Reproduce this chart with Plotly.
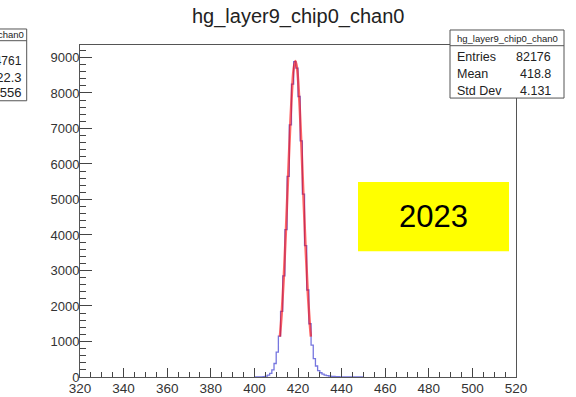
import plotly.graph_objects as go

# ---------------- data ----------------
title_text = "hg_layer9_chip0_chan0"
bin_start = 400
bin_width = 1
counts = [0, 1, 3, 6, 12, 25, 50, 100, 200, 380,
          700, 1150, 1850, 2850, 4150, 5650, 7100, 8250, 8880, 8700,
          7900, 6650, 5150, 3700, 2450, 1500, 900, 520, 310, 180,
          120, 80, 55, 40, 28, 20, 14, 10, 7, 5,
          4, 3, 2, 2, 1, 1, 1, 1, 1, 1]
fit_x = [411.7, 412.5, 413.5, 414.5, 415.5, 416.5, 417.5, 418.0, 418.8,
         419.5, 420.5, 421.5, 422.5, 423.5, 424.5, 425.5, 425.9]
fit_y = [1137, 1762, 2826, 4184, 5708, 7172, 8306, 8671, 8900,
         8724, 7911, 6609, 5090, 3613, 2363, 1424, 1137]
stats_labels = ["Entries", "Mean", "Std Dev"]
stats_values = ["82176", "418.8", "4.131"]
left_stats_title = "hg_layer9_chip0_chan0"
left_stats_values = ["64761", "422.3", "4.556"]
year_label = "2023"

# ---------------- layout geometry (pixels) ----------------
W, H = 576, 397
L, R, T, B = 80, 516, 45, 376.7


def px(x):
    return (x - L) / (R - L)


def py(y):
    return (B - y) / (B - T)


edges = [bin_start + i * bin_width for i in range(len(counts) + 1)]
hx = [edges[0]] + edges[:-1] + [edges[-1], edges[-1]]
hy = [0] + counts + [counts[-1], 0]

fig = go.Figure()
fig.add_trace(go.Scatter(x=hx, y=hy, mode="lines", line_shape="hv",
                         line=dict(color="rgba(60,60,210,0.7)", width=1.3),
                         hoverinfo="skip", showlegend=False))
fig.add_trace(go.Scatter(x=fit_x, y=fit_y, mode="lines", line_shape="spline",
                         line=dict(color="rgba(255,0,0,0.6)", width=2.5),
                         hoverinfo="skip", showlegend=False))

font_fam = "Liberation Sans, Arial, sans-serif"
shapes = []
annotations = []

# title
annotations.append(dict(text=title_text, xref="paper", yref="paper",
                        x=px(298), y=py(17), xanchor="center", yanchor="middle",
                        showarrow=False, font=dict(size=20, color="#222", family=font_fam)))

# right stats box
bx0, bx1, by0, by1, bsep = 450, 564, 30, 98, 45.7
shapes.append(dict(type="rect", xref="paper", yref="paper",
                   x0=px(bx0), x1=px(bx1), y0=py(by1), y1=py(by0),
                   line=dict(color="#555", width=1), fillcolor="white", layer="above"))
shapes.append(dict(type="line", xref="paper", yref="paper",
                   x0=px(bx0), x1=px(bx1), y0=py(bsep), y1=py(bsep),
                   line=dict(color="#555", width=1), layer="above"))
annotations.append(dict(text=title_text, xref="paper", yref="paper",
                        x=px((bx0 + bx1) / 2), y=py(38.5), xanchor="center", yanchor="middle",
                        showarrow=False, font=dict(size=9.5, color="#222", family=font_fam)))
for i, (lab, val) in enumerate(zip(stats_labels, stats_values)):
    yy = 57 + i * 17
    annotations.append(dict(text=lab, xref="paper", yref="paper", x=px(455), y=py(yy),
                            xanchor="left", yanchor="middle", showarrow=False,
                            font=dict(size=12.5, color="#222", family=font_fam)))
    annotations.append(dict(text=val, xref="paper", yref="paper", x=px(553), y=py(yy),
                            xanchor="right", yanchor="middle", showarrow=False,
                            font=dict(size=12.5, color="#222", family=font_fam)))

# left partial stats box (cut off at image edge)
lx0, lx1, ly0, ly1, lsep = -60, 26.7, 29, 100.7, 40.7
shapes.append(dict(type="rect", xref="paper", yref="paper",
                   x0=px(lx0), x1=px(lx1), y0=py(ly1), y1=py(ly0),
                   line=dict(color="#555", width=1), fillcolor="white", layer="above"))
shapes.append(dict(type="line", xref="paper", yref="paper",
                   x0=px(lx0), x1=px(lx1), y0=py(lsep), y1=py(lsep),
                   line=dict(color="#555", width=1), layer="above"))
annotations.append(dict(text=left_stats_title, xref="paper", yref="paper",
                        x=px(26), y=py(35), xanchor="right", yanchor="middle",
                        showarrow=False, font=dict(size=9.5, color="#222", family=font_fam)))
for i, val in enumerate(left_stats_values):
    yy = [60.5, 77.5, 92][i]
    fs = [12, 13, 13][i]
    annotations.append(dict(text=val, xref="paper", yref="paper", x=px(23.5), y=py(yy),
                            xanchor="right", yanchor="middle", showarrow=False,
                            font=dict(size=fs, color="#222", family=font_fam)))

# yellow year box
shapes.append(dict(type="rect", xref="paper", yref="paper",
                   x0=px(358), x1=px(509), y0=py(251), y1=py(182),
                   line=dict(width=0), fillcolor="#ffff00", layer="above"))
annotations.append(dict(text=year_label, xref="paper", yref="paper",
                        x=px(433.5), y=py(216.5), xanchor="center", yanchor="middle",
                        showarrow=False, font=dict(size=31, color="black", family=font_fam)))

fig.update_layout(
    width=W, height=H,
    margin=dict(l=L, r=W - R, t=T, b=H - B, pad=0, autoexpand=False),
    paper_bgcolor="white", plot_bgcolor="white",
    shapes=shapes, annotations=annotations,
    font=dict(family=font_fam, size=13, color="#333"),
)
fig.update_xaxes(range=[320, 520], tick0=320, dtick=20, ticks="inside", ticklen=9,
                 tickcolor="#444", tickwidth=1, automargin=False,
                 minor=dict(dtick=5, ticks="inside", ticklen=5, tickcolor="#444"),
                 showgrid=False, zeroline=False, showline=True, linecolor="#555",
                 linewidth=1, mirror=True, tickfont=dict(size=13.5, color="#333"),
                 ticklabelstandoff=-1)
fig.update_yaxes(range=[0, 9350], tick0=0, dtick=1000, ticks="inside", ticklen=12,
                 tickcolor="#444", tickwidth=1, automargin=False,
                 minor=dict(dtick=200, ticks="inside", ticklen=6, tickcolor="#444"),
                 showgrid=False, zeroline=False, showline=True, linecolor="#555",
                 linewidth=1, mirror=True, tickfont=dict(size=13, color="#333"),
                 ticklabelstandoff=-3)

fig.write_html("out.html", config={"displayModeBar": False},
               post_script="document.body.style.margin='0px';document.body.style.overflow='hidden';")
